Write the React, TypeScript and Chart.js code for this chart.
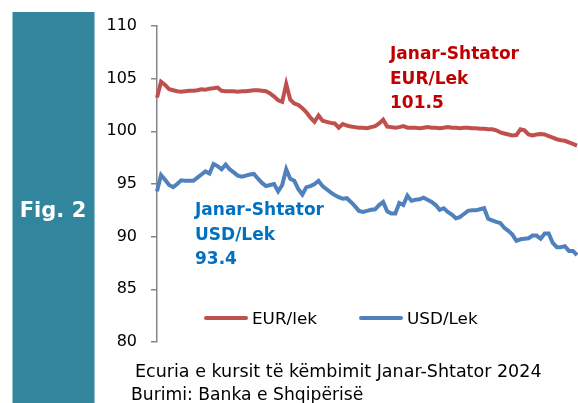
import React, { useEffect, useRef } from "react";
import { Chart, registerables } from "chart.js";

Chart.register(...registerables);

// Trading-day samples, January–September 2024
const EUR_LEK = [
  103.2, 104.7, 104.4, 104.0, 103.9, 103.8, 103.75, 103.8, 103.85, 103.85,
  103.9, 104.0, 103.95, 104.05, 104.1, 104.15, 103.85, 103.8, 103.8, 103.8,
  103.75, 103.8, 103.8, 103.85, 103.9, 103.9, 103.85, 103.8, 103.6, 103.3,
  102.95, 102.8, 104.5, 103.0, 102.65, 102.5, 102.2, 101.8, 101.3, 100.9,
  101.5, 101.0, 100.9, 100.8, 100.75, 100.35, 100.7, 100.55, 100.45, 100.4,
  100.35, 100.35, 100.3, 100.4, 100.5, 100.75, 101.1, 100.45, 100.4, 100.35,
  100.4, 100.5, 100.35, 100.35, 100.35, 100.3, 100.35, 100.4, 100.35, 100.35,
  100.3, 100.35, 100.4, 100.35, 100.35, 100.3, 100.35, 100.35, 100.3, 100.3,
  100.25, 100.25, 100.2, 100.2, 100.1, 99.9, 99.8, 99.7, 99.6, 99.65,
  100.2, 100.1, 99.7, 99.6, 99.7, 99.75, 99.7, 99.55, 99.4, 99.25,
  99.15, 99.1, 98.95, 98.8, 98.65,
];

const USD_LEK = [
  94.3, 95.85, 95.4, 94.9, 94.7, 95.0, 95.35, 95.3, 95.3, 95.3,
  95.6, 95.9, 96.2, 96.0, 96.9, 96.7, 96.4, 96.85, 96.4, 96.1,
  95.8, 95.7, 95.8, 95.9, 95.95, 95.5, 95.1, 94.8, 94.9, 95.0,
  94.3, 94.9, 96.4, 95.5, 95.3, 94.5, 94.0, 94.7, 94.8, 95.0,
  95.3, 94.8, 94.5, 94.2, 93.95, 93.75, 93.6, 93.65, 93.3, 92.9,
  92.45, 92.35, 92.45, 92.55, 92.6, 93.0, 93.3, 92.4, 92.2, 92.2,
  93.2, 93.0, 93.9, 93.4, 93.5, 93.55, 93.7, 93.5, 93.3, 93.0,
  92.55, 92.7, 92.35, 92.1, 91.75, 91.85, 92.15, 92.45, 92.5, 92.5,
  92.6, 92.7, 91.7, 91.55, 91.4, 91.3, 90.85, 90.55, 90.2, 89.6,
  89.75, 89.8, 89.85, 90.1, 90.1, 89.8, 90.3, 90.3, 89.4, 89.0,
  89.0, 89.1, 88.65, 88.65, 88.25,
];

const DAY_LABELS = EUR_LEK.map((_, i) => String(i + 1));

const SERIES_NAMES = ["EUR/lek", "USD/Lek"];
const Y_MIN = 80;
const Y_MAX = 110;
const Y_STEP = 5;

const FIG_LABEL = "Fig. 2";
const EUR_NOTE = ["Janar-Shtator", "EUR/Lek", "101.5"];
const USD_NOTE = ["Janar-Shtator", "USD/Lek", "93.4"];
const CAPTION = [
  "Ecuria e kursit të këmbimit Janar-Shtator 2024",
  "Burimi: Banka e Shqipërisë",
];

const RED = "#C0504D";
const BLUE = "#4F81BD";
const NOTE_RED = "#C00000";
const NOTE_BLUE = "#0070C0";
const TEAL = "#31859C";
const AXIS_GRAY = "#868686";
const FONT = "'DejaVu Sans', sans-serif";

function stretchedText(ctx: any, text: string, x: number, y: number, sx: number) {
  ctx.save();
  ctx.translate(x, y);
  ctx.scale(sx, 1);
  ctx.fillText(text, 0, 0);
  ctx.restore();
}

const decorPlugin = {
  id: "decor",
  beforeDraw(chart: any) {
    const ctx = chart.ctx;
    ctx.save();
    ctx.fillStyle = TEAL;
    ctx.fillRect(12.5, 12, 82, 403);
    ctx.fillStyle = "#ffffff";
    ctx.font = `bold 21px ${FONT}`;
    ctx.textAlign = "center";
    ctx.textBaseline = "alphabetic";
    ctx.fillText(FIG_LABEL, 53, 217);
    ctx.restore();
  },
  afterDraw(chart: any) {
    const ctx = chart.ctx;
    ctx.save();
    ctx.textAlign = "left";
    ctx.textBaseline = "alphabetic";
    // notes
    ctx.font = `bold 17px ${FONT}`;
    ctx.fillStyle = NOTE_RED;
    EUR_NOTE.forEach((t, i) => ctx.fillText(t, 390, 59 + i * 24.6));
    ctx.fillStyle = NOTE_BLUE;
    USD_NOTE.forEach((t, i) => ctx.fillText(t, 195, 215 + i * 24.6));
    // legend
    const ds = chart.data.datasets;
    const legendItems = [
      { x: 205, color: ds[0].borderColor, label: ds[0].label },
      { x: 360, color: ds[1].borderColor, label: ds[1].label },
    ];
    ctx.font = `16px ${FONT}`;
    legendItems.forEach((it) => {
      ctx.strokeStyle = it.color;
      ctx.lineWidth = 4;
      ctx.lineCap = "round";
      ctx.beginPath();
      ctx.moveTo(it.x + 1, 318);
      ctx.lineTo(it.x + 41, 318);
      ctx.stroke();
      ctx.fillStyle = "#000000";
      stretchedText(ctx, it.label, it.x + 47, 324, 1.05);
    });
    // caption
    ctx.fillStyle = "#000000";
    ctx.font = `17px ${FONT}`;
    stretchedText(ctx, CAPTION[0], 135, 377, 1.03);
    stretchedText(ctx, CAPTION[1], 131, 400, 1.01);
    ctx.restore();
  },
};

export default function App() {
  const canvasRef = useRef<HTMLCanvasElement | null>(null);

  useEffect(() => {
    if (!canvasRef.current) return;
    const chart = new Chart(canvasRef.current, {
      type: "line",
      data: {
        labels: DAY_LABELS,
        datasets: [
          {
            label: SERIES_NAMES[0],
            data: EUR_LEK,
            borderColor: RED,
            backgroundColor: RED,
            borderWidth: 4,
            pointRadius: 0,
            tension: 0,
            clip: false as any,
          },
          {
            label: SERIES_NAMES[1],
            data: USD_LEK,
            borderColor: BLUE,
            backgroundColor: BLUE,
            borderWidth: 4,
            pointRadius: 0,
            tension: 0,
            clip: false as any,
          },
        ],
      },
      options: {
        animation: false,
        responsive: false,
        devicePixelRatio: 1,
        layout: { padding: { left: 0, right: 1, top: 26, bottom: 61 } },
        plugins: {
          legend: { display: false },
          tooltip: { enabled: false },
        },
        scales: {
          x: { display: false },
          y: {
            min: Y_MIN,
            max: Y_MAX,
            afterFit: (scale: any) => {
              scale.width = 157;
            },
            ticks: {
              stepSize: Y_STEP,
              padding: 14,
              color: "#000000",
              font: { family: FONT, size: 16 },
            },
            grid: {
              drawOnChartArea: false,
              drawTicks: true,
              tickLength: 6,
              color: AXIS_GRAY,
              lineWidth: 1.5,
            },
            border: { display: true, color: AXIS_GRAY, width: 1.5 },
          },
        },
      },
      plugins: [decorPlugin],
    });
    return () => chart.destroy();
  }, []);

  return (
    <div style={{ position: "absolute", left: 0, top: 0, width: 578, height: 403, background: "#ffffff" }}>
      <canvas ref={canvasRef} width={578} height={403} style={{ width: 578, height: 403 }} />
    </div>
  );
}
